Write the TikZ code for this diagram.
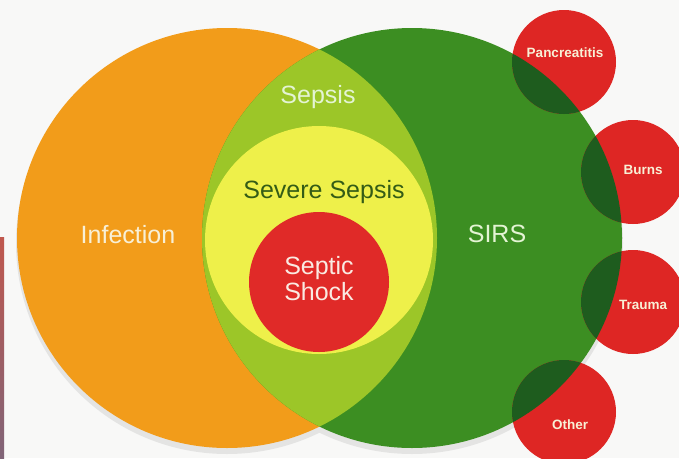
\documentclass[tikz,border=0pt]{standalone}
\usepackage{fontspec}
\setmainfont{Liberation Sans}
\usepackage{xcolor}
\definecolor{bgwhite}{RGB}{248,248,247}
\definecolor{infectorange}{RGB}{242,156,26}
\definecolor{sirsgreen}{RGB}{60,142,34}
\definecolor{sepsisgreen}{RGB}{156,198,40}
\definecolor{severeyellow}{RGB}{238,240,74}
\definecolor{shockred}{RGB}{224,42,40}
\definecolor{causered}{RGB}{222,38,36}
\definecolor{overlapgreen}{RGB}{30,92,30}
\definecolor{creamtext}{RGB}{248,240,214}
\definecolor{palegreentext}{RGB}{228,244,212}
\definecolor{pinktext}{RGB}{250,234,226}
\definecolor{darktext}{RGB}{52,92,22}

\begin{document}
\begin{tikzpicture}[x=1pt,y=-1pt,
  blob/.style={circle,inner sep=0pt,minimum size=#1},
  big/.style={font=\fontsize{25}{26}\selectfont},
  small/.style={font=\bfseries\fontsize{13.5}{14}\selectfont,text=creamtext}]
 \useasboundingbox (0,0) rectangle (679,458);
 \fill[bgwhite] (0,0) rectangle (679,458);
 \clip (0,0) rectangle (679,458);
 \shade[top color={rgb,255:red,192;green,88;blue,78},middle color={rgb,255:red,226;green,150;blue,96},
   bottom color={rgb,255:red,128;green,100;blue,120}] (0,237) rectangle (4,458);
 \fill[black,opacity=.08] (227,243) circle[radius=211pt] (412,243) circle[radius=211pt];
 \node[blob=420pt,fill=infectorange] (infection) at (227,238) {};
 \node[blob=420pt,fill=sirsgreen] (sirs) at (412,238) {};
 \begin{scope}
  \clip (infection.center) circle[radius=210pt];
  \fill[sepsisgreen] (sirs.center) circle[radius=210pt];
  \node[blob=228pt,fill=severeyellow] (severe) at (319,240) {};
 \end{scope}
 \node[blob=140pt,fill=shockred] (shock) at (319,282) {};
 \foreach \n/\x/\y in {pancreas/564/62,burns/633/172,trauma/633/302,other/564/412}{
  \node[blob=104pt,fill=causered] (\n) at (\x,\y) {};
  \begin{scope}
   \clip (\n.center) circle[radius=52pt];
   \fill[overlapgreen] (sirs.center) circle[radius=210pt];
  \end{scope}
 }
 \node[big,text=creamtext] (infectionlabel) at (128,235) {Infection};
 \node[big,text=palegreentext] (sirslabel) at (497,234) {SIRS};
 \node[big,text=palegreentext] (sepsislabel) at (318,97) {Sepsis};
 \node[big,text=darktext] (severelabel) at (324,192) {Severe Sepsis};
 \node[big,text=pinktext,align=center] (shocklabel) at (319,279) {Septic\\Shock};
 \node[small] (pancreaslabel) at (565,53) {Pancreatitis};
 \node[small] (burnslabel) at (643,170) {Burns};
 \node[small] (traumalabel) at (643,305) {Trauma};
 \node[small] (otherlabel) at (570,425) {Other};
\end{tikzpicture}
\end{document}
